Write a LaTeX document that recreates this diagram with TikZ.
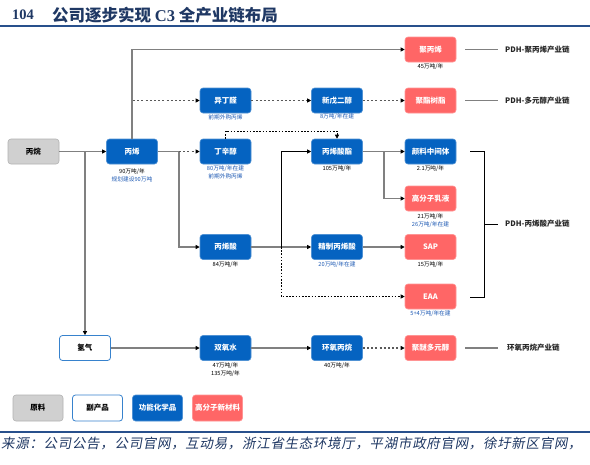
\documentclass[tikz,border=0pt]{standalone}
\usepackage{fontspec}
\setmainfont{Noto Sans CJK SC}
\newfontfamily\serifb{Liberation Serif}
\newfontfamily\kai[FakeSlant=0.18,LetterSpace=5]{Noto Sans CJK SC}
\usetikzlibrary{arrows.meta}
\definecolor{fblue}{RGB}{5,99,193}
\definecolor{fpink}{RGB}{255,102,102}
\definecolor{fgray}{RGB}{208,208,208}
\definecolor{navy}{RGB}{31,56,100}
\definecolor{rulec}{RGB}{40,80,140}
\definecolor{lnk}{RGB}{128,128,128}
\definecolor{subb}{RGB}{30,90,180}
\tikzset{
  boxx/.style={rounded corners=3pt, minimum width=51pt, minimum height=25pt, inner sep=0pt,
    font=\fontsize{7.5}{8}\selectfont\bfseries, text=white},
  fc/.style={boxx, fill=fblue, draw=fblue!70!white, line width=0.6pt},
  nm/.style={boxx, fill=fpink, draw=fpink!70!white, line width=0.6pt},
  rawbox/.style={boxx, fill=fgray, draw=gray!60, line width=0.6pt, text=black},
  byp/.style={boxx, fill=white, draw=fblue!80, line width=0.8pt, text=black},
  capt/.style={font=\fontsize{5.7}{6.5}\selectfont, text=black, inner sep=0pt},
  captb/.style={capt, text=subb},
  chainlbl/.style={font=\fontsize{7.5}{8}\selectfont\bfseries, text=black!85, anchor=west, inner sep=0pt},
  arr/.style={-{Triangle[length=4pt,width=4pt,color=black]}},
  ln/.style={draw=lnk, line width=1.1pt},
  dl/.style={draw=black!65, line width=1.1pt, dash pattern=on 2pt off 2.2pt},
  fineln/.style={draw=black, line width=0.6pt, dash pattern=on 1.6pt off 1.6pt},
  thinln/.style={draw=black, line width=0.7pt},
}
\begin{document}
\begin{tikzpicture}[x=1pt,y=-1pt]
\useasboundingbox (0,0) rectangle (590,464);
\fill[white] (0,0) rectangle (590,464);
% title
\node[anchor=west, inner sep=0, text=navy, font=\fontsize{14.5}{15}\selectfont\bfseries] (tnum) at (12,15) {\serifb 104};
\node[anchor=west, inner sep=0, text=navy, font=\fontsize{16.5}{17}\selectfont\bfseries] (ttl) at (52,15) {公司逐步实现 {\serifb C3} 全产业链布局};
\draw[rulec, line width=1.5pt] (0,26) -- (590,26);
\draw[rulec, line width=1.5pt] (0,432) -- (590,432);
\node[anchor=west, inner sep=0, text=navy, font=\fontsize{13.5}{14}\selectfont] (src) at (1,443) {\kai 来源：公司公告，公司官网，互动易，浙江省生态环境厅，平湖市政府官网，徐圩新区官网，};

% nodes
\node[rawbox] (prop) at (33.5,151.5) {丙烷};
\node[fc] (pp) at (132,151.5) {丙烯};
\node[fc] (ibal) at (225.5,100.5) {异丁醛};
\node[fc] (oxo) at (225.5,151.5) {丁辛醇};
\node[fc] (aa) at (225.5,247) {丙烯酸};
\node[byp] (h2) at (85,348) {氢气};
\node[fc] (h2o2) at (225.5,348) {双氧水};
\node[fc] (npg) at (337,100.5) {新戊二醇};
\node[fc] (ae) at (337,151.5) {丙烯酸酯};
\node[fc] (gaa) at (337,247) {精制丙烯酸};
\node[fc] (po) at (337,348) {环氧丙烷};
\node[nm] (ppoly) at (430.5,49.5) {聚丙烯};
\node[nm] (resin) at (430.5,100.5) {聚酯树脂};
\node[fc] (pig) at (430.5,151.5) {颜料中间体};
\node[nm] (emul) at (430.5,198.5) {高分子乳液};
\node[nm] (sap) at (430.5,247) {SAP};
\node[nm] (eaa) at (430.5,296.5) {EAA};
\node[nm] (ppg) at (430.5,348) {聚醚多元醇};

% captions
\node[capt] (c1) at (132,172) {90万吨/年};
\node[captb] (c2) at (132,179.5) {规划建设90万吨};
\node[captb] (c3) at (225.5,117) {前期外购丙烯};
\node[captb] (c4) at (225.5,169) {80万吨/年在建};
\node[captb] (c5) at (225.5,176.5) {前期外购丙烯};
\node[capt] (c6) at (225.5,265) {84万吨/年};
\node[capt] (c7) at (225.5,366) {47万吨/年};
\node[capt] (c8) at (225.5,373.5) {135万吨/年};
\node[captb] (c9) at (337,117) {8万吨/年在建};
\node[capt] (c10) at (337,169) {105万吨/年};
\node[captb] (c11) at (337,265) {20万吨/年在建};
\node[capt] (c12) at (337,366) {40万吨/年};
\node[capt] (c13) at (430.5,67) {45万吨/年};
\node[capt] (c14) at (430.5,169) {2.1万吨/年};
\node[capt] (c15) at (430.5,217) {21万吨/年};
\node[captb] (c16) at (430.5,224.5) {26万吨/年在建};
\node[capt] (c17) at (430.5,265) {15万吨/年};
\node[captb] (c18) at (430.5,314) {5+4万吨/年在建};

% connectors
\coordinate (j1) at (85,151.5);
\coordinate (j2) at (179,151.5);
\coordinate (j3) at (281,247);
\coordinate (j4) at (384,151.5);
\draw[ln, arr] (prop) -- (pp);
\draw[ln, arr] (j1) -- (h2.north);
\draw[ln, arr] (pp.north) |- (ppoly.west);
\draw[dl, arr] (133,100.5) -- (ibal.west);
\draw[ln] (pp.east) -- (j2);
\draw[dl, arr] (j2) -- (oxo.west);
\draw[ln, arr] (j2) |- (aa.west);
\draw[dl, arr] (ibal) -- (npg);
\draw[dl, arr] (npg) -- (resin);
\draw[fineln, arr] (oxo.north) -- (225.5,131) -| (ae.north);
\draw[ln, arr] (aa) -- (gaa);
\draw[thinln, arr] (j3) |- (ae.west);
\draw[fineln, arr] (j3) |- (eaa.west);
\draw[ln, arr] (ae) -- (pig);
\draw[ln, arr] (j4) |- (emul.west);
\draw[ln, arr] (gaa) -- (sap);
\draw[ln, arr] (h2) -- (h2o2);
\draw[ln, arr] (h2o2) -- (po);
\draw[dl, arr] (po) -- (ppg);

% chain labels
\draw[ln] (465,49.5) -- (498,49.5);
\draw[ln] (465,100.5) -- (498,100.5);
\draw[ln] (465,348) -- (498,348);
\draw[thinln, line width=0.9pt] (470,151.5) -- (484,151.5) -- (484,297) -- (470,297);
\draw[thinln, line width=0.9pt] (484,224) -- (498,224);
\node[chainlbl] (l1) at (505,49.5) {PDH-聚丙烯产业链};
\node[chainlbl] (l2) at (505,100.5) {PDH-多元醇产业链};
\node[chainlbl] (l3) at (505,224) {PDH-丙烯酸产业链};
\node[chainlbl] (l4) at (507,348) {环氧丙烷产业链};

% legend
\node[rawbox, minimum width=50pt, minimum height=26pt] (g1) at (38,408) {原料};
\node[byp, minimum width=50pt, minimum height=26pt] (g2) at (97.5,408) {副产品};
\node[fc, minimum width=50pt, minimum height=26pt] (g3) at (157.5,408) {功能化学品};
\node[nm, minimum width=50pt, minimum height=26pt] (g4) at (217.5,408) {高分子新材料};
\end{tikzpicture}
\end{document}
